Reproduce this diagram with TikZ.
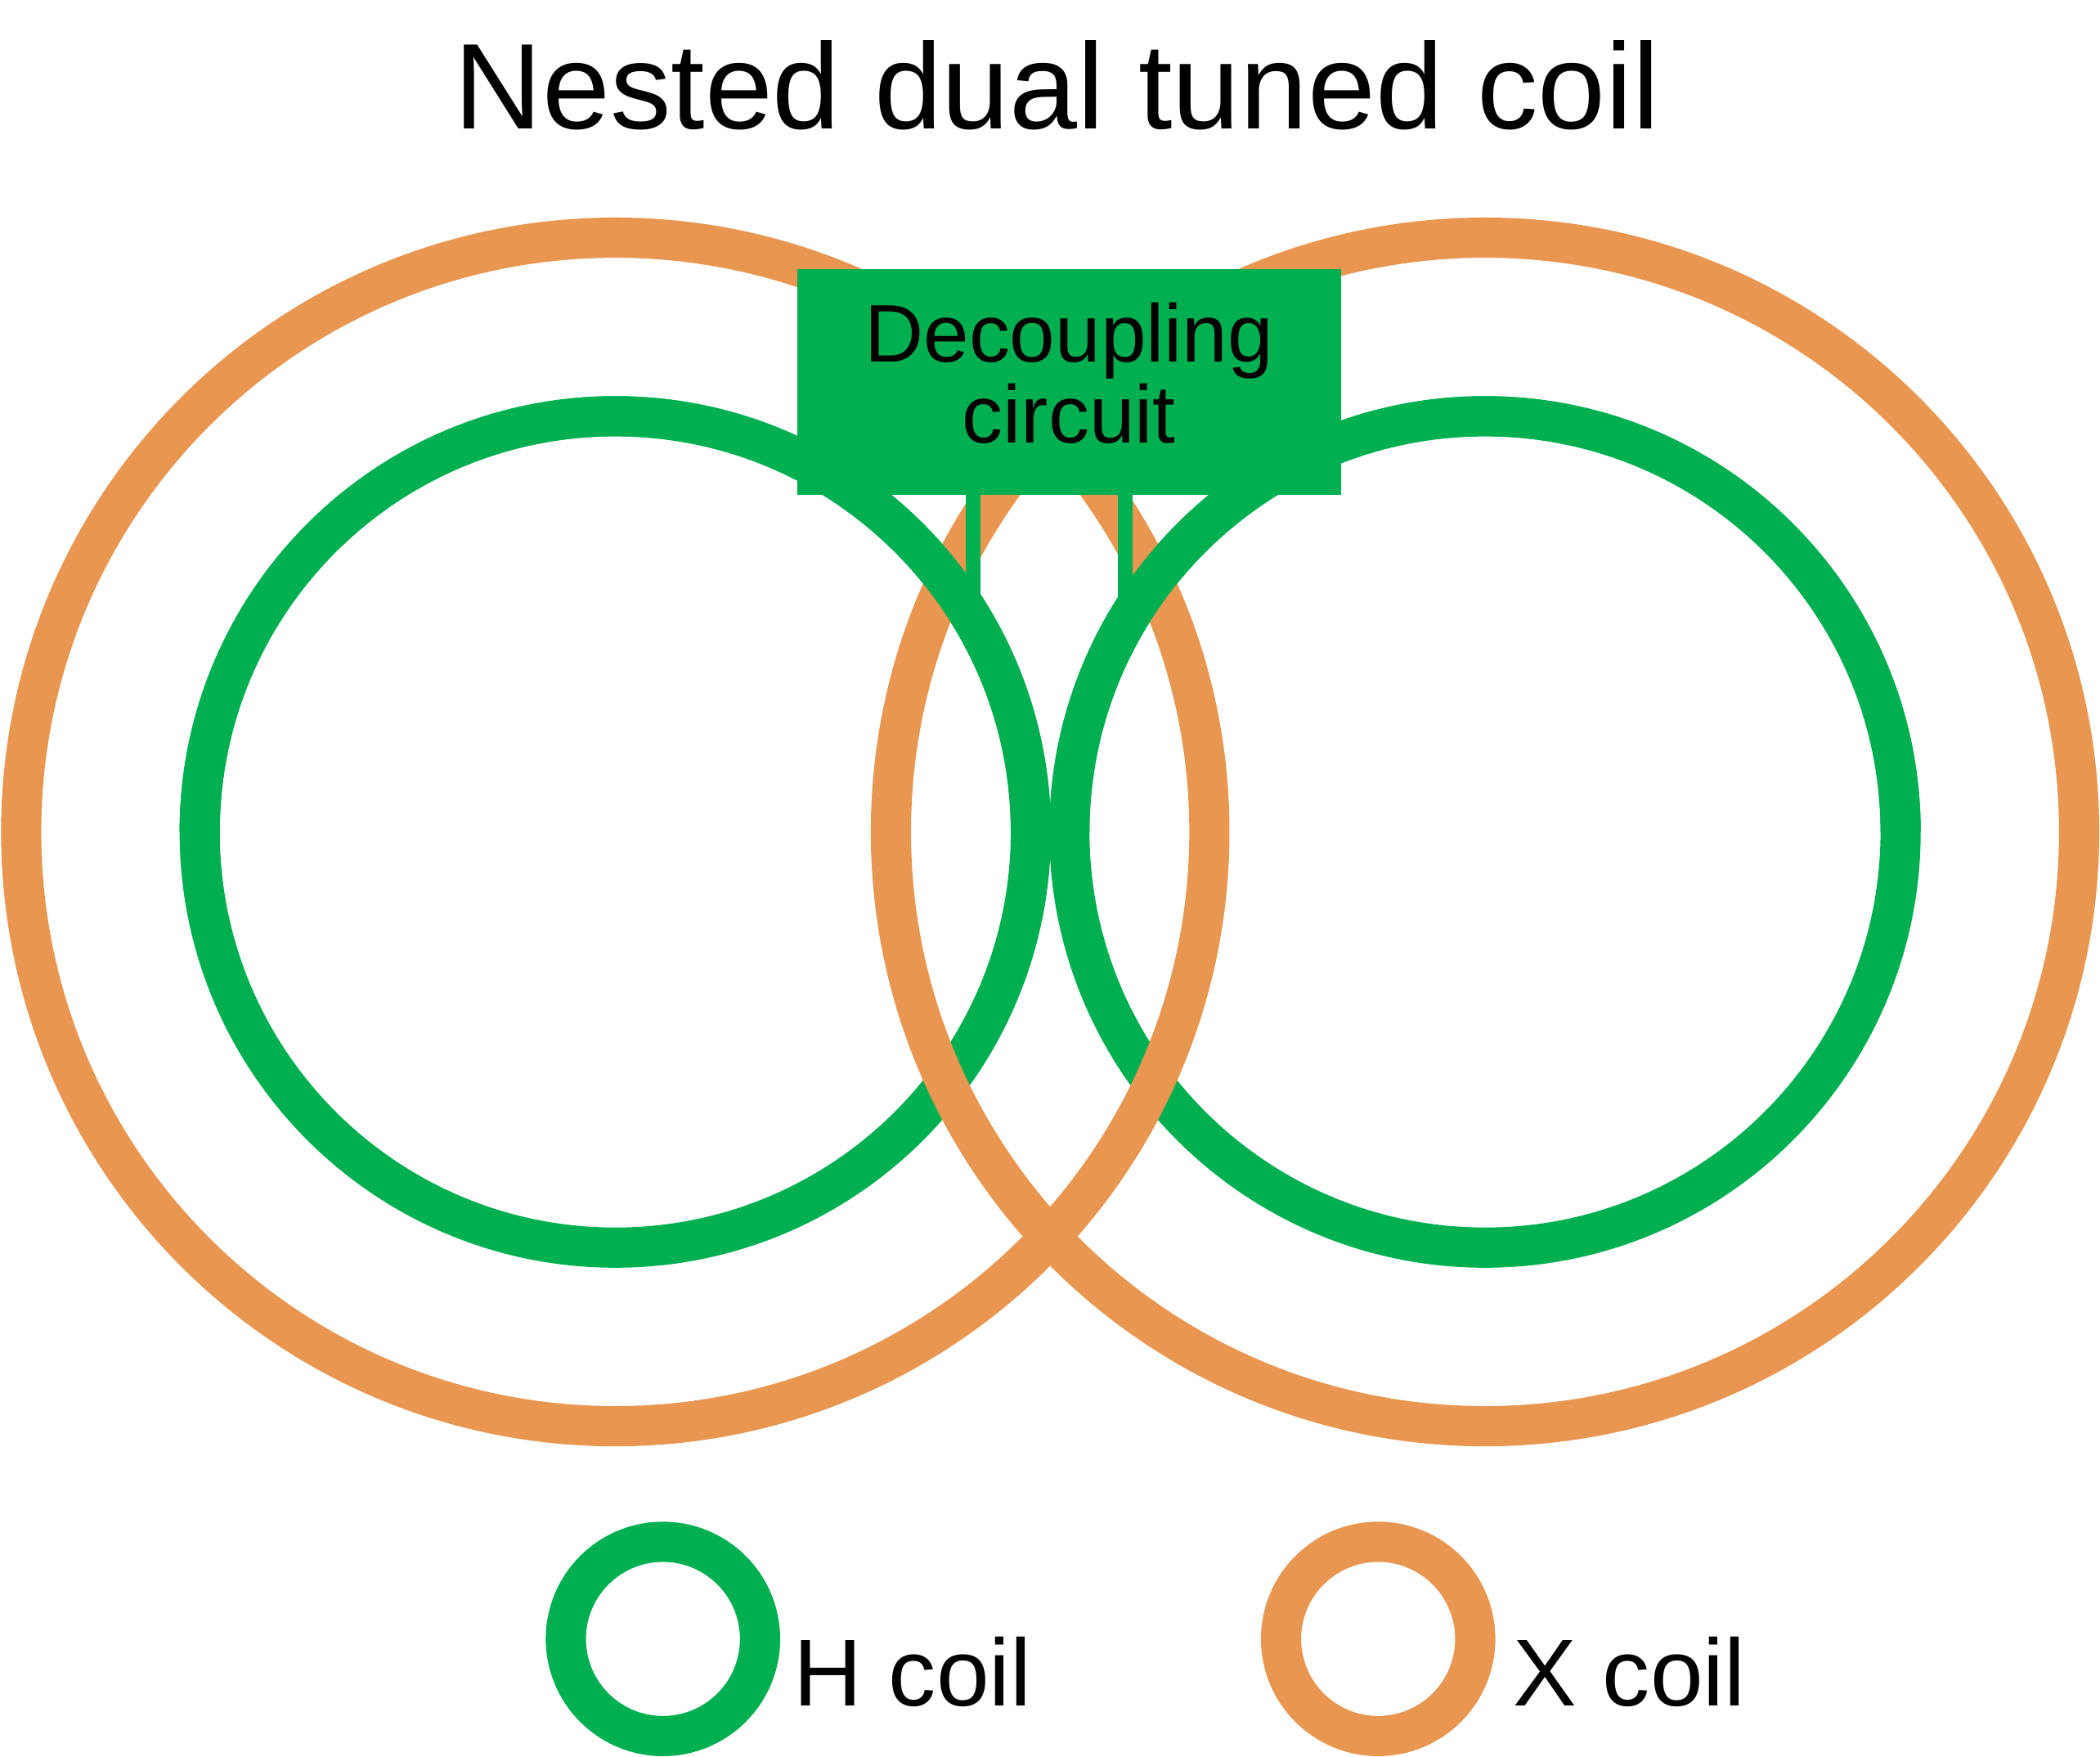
\documentclass[tikz,border=0pt]{standalone}
\usepackage{fontspec}
\setmainfont{Liberation Sans}
\definecolor{hgreen}{RGB}{0,176,80}
\definecolor{xorange}{RGB}{233,150,80}
\begin{document}
\begin{tikzpicture}[x=1pt,y=-1pt,
  hring/.style={draw=hgreen,line width=30pt},
  xring/.style={draw=xorange,line width=30pt},
  leadline/.style={draw=hgreen,line width=11pt},
  decbox/.style={fill=hgreen,draw=none,minimum width=406pt,minimum height=168.4pt,inner sep=0pt},
  dectext/.style={inner sep=0pt,anchor=base,font=\fontsize{61}{61}\selectfont},
  lbl/.style={inner sep=0pt,anchor=base west,font=\fontsize{71}{71}\selectfont}]
\useasboundingbox (0,0) rectangle (1568,1311);
% centres
\coordinate (cL) at (459.4,621);
\coordinate (cR) at (1108.8,621);
% H coils (green), full
\draw[hring] (cL) circle[radius=310.3];
\draw[hring] (cR) circle[radius=310.3];
% X coils (orange)
\draw[xring] (cL) circle[radius=443.6];
\draw[xring] (cR) circle[radius=443.6];
% upper halves of H coils on top
\draw[hring] ([xshift=310.3pt]cL) arc[start angle=0,end angle=-180,radius=310.3];
\draw[hring] ([xshift=310.3pt]cR) arc[start angle=0,end angle=-180,radius=310.3];
% decoupling box
\node[decbox] (dec) at (798.2,285.2) {};
% leads
\coordinate (jL) at (726.3,462);
\coordinate (jR) at (840.3,462);
\draw[leadline] ([yshift=2pt]jL |- dec.south) -- (jL);
\draw[leadline] ([yshift=2pt]jR |- dec.south) -- (jR);
\node[dectext] (decA) at (798.2,270.3) {Decoupling};
\node[dectext] (decB) at (798.2,330.7) {circuit};
% title
\node[inner sep=0pt,anchor=base,font=\fontsize{91}{91}\selectfont] (title) at (789.5,96.3) {Nested dual tuned coil};
% legend
\coordinate (lgH) at (495,1223.4);
\coordinate (lgX) at (1029,1223.4);
\draw[hring] (lgH) circle[radius=72.5];
\draw[xring] (lgX) circle[radius=72.5];
\node[lbl] (hlbl) at (592.5,1273.4) {H coil};
\node[lbl] (xlbl) at (1129.5,1273.4) {X coil};
\end{tikzpicture}
\end{document}
